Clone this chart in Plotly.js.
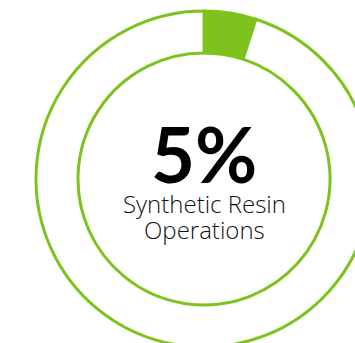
<!DOCTYPE html>
<html>
<head>
<meta charset="utf-8">
<script src="https://cdn.plot.ly/plotly-3.0.1.min.js"></script>
<style>
html,body{margin:0;padding:0;overflow:hidden;background:#fff;width:355px;height:343px;}
#chart{width:408px;height:360px;}
</style>
</head>
<body>
<div id="chart"></div>
<script>
const labels = ["Synthetic Resin Operations", "Other"];
const values = [5, 95];
const sliceColors = ["#7ec21d", "#ffffff"];
const bigLabel = "5%";
const captionLines = ["Synthetic Resin", "Operations"];

const green = "#7ec21d";

Plotly.newPlot("chart", [{
  type: "pie",
  labels: labels,
  values: values,
  hole: 0.75,
  sort: false,
  direction: "clockwise",
  rotation: 0,
  textinfo: "none",
  hoverinfo: "none",
  marker: {colors: sliceColors, line: {color: green, width: 3}}
}], {
  width: 408,
  height: 360,
  margin: {l: 36, r: 36, t: 11, b: 13},
  showlegend: false,
  paper_bgcolor: "#fff",
  annotations: [
    {text: "<b>" + bigLabel + "</b>", x: 0.5, y: 0.575, xref: "paper", yref: "paper",
     showarrow: false, font: {family: "Lato, sans-serif", size: 76, color: "#000"}},
    {text: captionLines[0], x: 0.5, y: 0.426, xref: "paper", yref: "paper",
     showarrow: false, font: {family: "Open Sans, sans-serif", size: 24, weight: 300, color: "#111"}},
    {text: captionLines[1], x: 0.5, y: 0.349, xref: "paper", yref: "paper",
     showarrow: false, font: {family: "Open Sans, sans-serif", size: 24, weight: 300, color: "#111"}}
  ]
}, {displayModeBar: false, staticPlot: true});
</script>
</body>
</html>
